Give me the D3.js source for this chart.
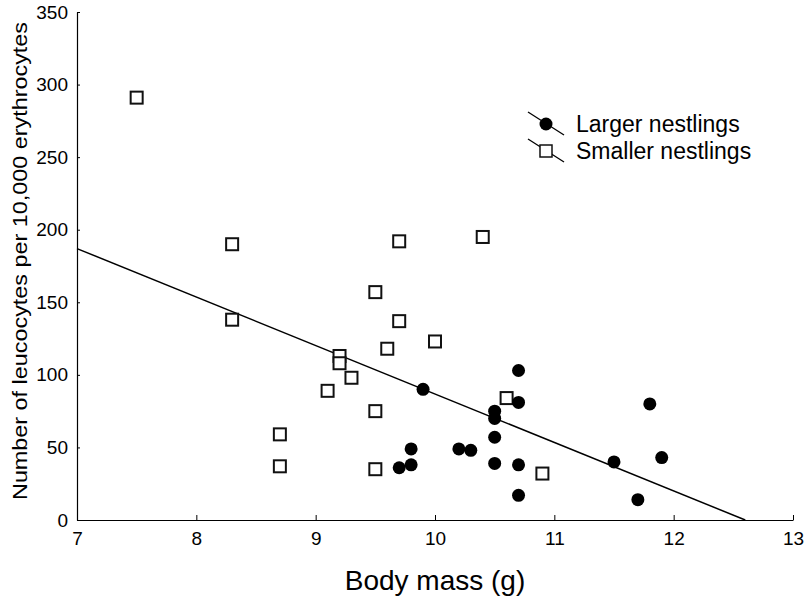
<!DOCTYPE html>
<html>
<head>
<meta charset="utf-8" />
<title>Leucocytes vs body mass</title>
<script src="https://d3js.org/d3.v7.min.js"></script>
<style>
  body { margin: 0; background: #fff; }
  text { font-family: "Liberation Sans", Arial, sans-serif; fill: #000; }
</style>
</head>
<body>
<svg id="chart" width="808" height="597"></svg>
<script>
// larger nestlings (filled circles)
var largerMass = [9.7, 9.8, 9.8, 9.9, 10.2, 10.3, 10.5, 10.5, 10.5, 10.5, 10.7, 10.7, 10.7, 10.7, 11.5, 11.7, 11.8, 11.9];
var largerCount = [36, 49, 38, 90, 49, 48, 75, 70, 57, 39, 103, 81, 38, 17, 40, 14, 80, 43];

// smaller nestlings (open squares)
var smallerMass = [7.5, 8.3, 8.3, 8.7, 8.7, 9.1, 9.2, 9.2, 9.3, 9.5, 9.5, 9.5, 9.6, 9.7, 9.7, 10.0, 10.4, 10.6, 10.9];
var smallerCount = [291, 190, 138, 59, 37, 89, 113, 108, 98, 157, 75, 35, 118, 192, 137, 123, 195, 84, 32];

// regression line end points
var fitMass = [7, 12.6];
var fitCount = [187, 0];

var xTicks = [7, 8, 9, 10, 11, 12, 13];
var yTicks = [0, 50, 100, 150, 200, 250, 300, 350];

var legendLabels = ["Larger nestlings", "Smaller nestlings"];

var svg = d3.select("#chart");
var x = d3.scaleLinear().domain([7, 13]).range([77, 793]);
var y = d3.scaleLinear().domain([0, 350]).range([520, 12]);

// x axis, ticks pointing inward
var xAxis = svg.append("g").attr("transform", "translate(0,520)")
    .call(d3.axisBottom(x).tickValues(xTicks).tickFormat(d3.format("d"))
        .tickSizeInner(-5).tickSizeOuter(0).tickPadding(12));
xAxis.select(".domain").attr("stroke", "#000").attr("stroke-width", 1.2);
xAxis.selectAll("line").attr("stroke", "#000");
xAxis.selectAll("text").style("font-size", "19px");

// y axis, short inward ticks
var yAxis = svg.append("g").attr("transform", "translate(77,0)")
    .call(d3.axisLeft(y).tickValues(yTicks).tickFormat(d3.format("d"))
        .tickSizeInner(-3).tickSizeOuter(0).tickPadding(9));
yAxis.select(".domain").attr("stroke", "#000").attr("stroke-width", 1.2);
yAxis.selectAll("line").attr("stroke", "#000");
yAxis.selectAll("text").style("font-size", "19px");

// axis titles
svg.append("text").attr("x", 435).attr("y", 590).attr("text-anchor", "middle")
    .style("font-size", "28px").text("Body mass (g)");
svg.append("text").attr("transform", "translate(27,261) rotate(-90)").attr("text-anchor", "middle")
    .attr("textLength", 478).attr("lengthAdjust", "spacingAndGlyphs")
    .style("font-size", "21px").text("Number of leucocytes per 10,000 erythrocytes");

// regression line
svg.append("line")
    .attr("x1", x(fitMass[0])).attr("y1", y(fitCount[0]))
    .attr("x2", x(fitMass[1])).attr("y2", y(fitCount[1]))
    .attr("stroke", "#000").attr("stroke-width", 1.5);

// squares
svg.selectAll(".sq").data(smallerMass).enter().append("rect")
    .attr("class", "sq")
    .attr("x", function(d) { return x(d) - 6; })
    .attr("y", function(d, i) { return y(smallerCount[i]) - 6; })
    .attr("width", 12).attr("height", 12)
    .attr("fill", "#fff").attr("stroke", "#111").attr("stroke-width", 2);

// circles
svg.selectAll(".dot").data(largerMass).enter().append("circle")
    .attr("class", "dot")
    .attr("cx", function(d) { return x(d); })
    .attr("cy", function(d, i) { return y(largerCount[i]); })
    .attr("r", 6.5).attr("fill", "#000");

// legend
var lg = svg.append("g").attr("transform", "translate(546,124)");
legendLabels.forEach(function(lab, i) {
    var row = lg.append("g").attr("transform", "translate(0," + (i * 27) + ")");
    row.append("line").attr("x1", -18).attr("y1", -12).attr("x2", 18).attr("y2", 11)
        .attr("stroke", "#000").attr("stroke-width", 1.3);
    if (i == 0) {
        row.append("circle").attr("r", 6.5).attr("fill", "#000");
    } else {
        row.append("rect").attr("x", -6).attr("y", -6).attr("width", 12).attr("height", 12)
            .attr("fill", "#fff").attr("stroke", "#111").attr("stroke-width", 1.5);
    }
    row.append("text").attr("x", 30).attr("y", 8).style("font-size", "23px").text(lab);
});
</script>
</body>
</html>
